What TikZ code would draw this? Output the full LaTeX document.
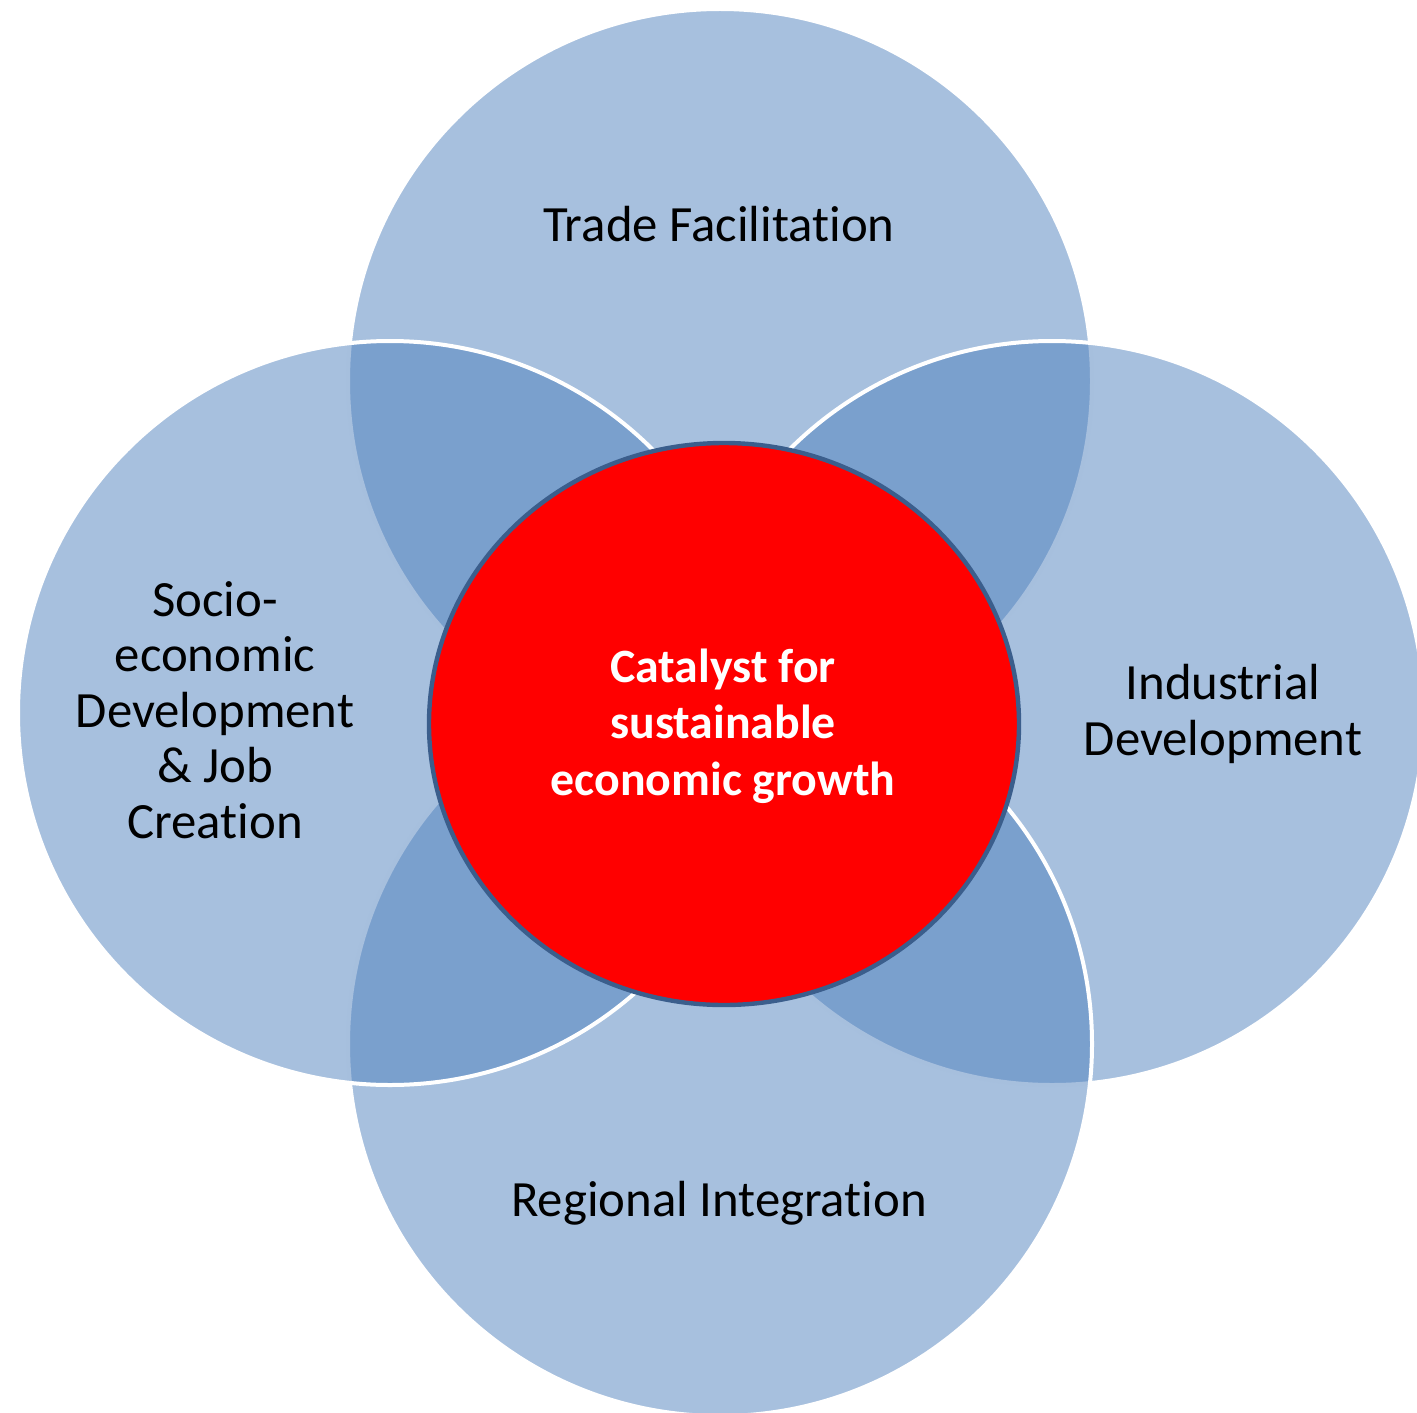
\documentclass[tikz,border=0pt]{standalone}
\usepackage{fontspec}
\setmainfont{Carlito}[Ligatures={NoCommon,NoContextual}]
\definecolor{petalblue}{HTML}{4F81BD}
\definecolor{coreedge}{HTML}{3B5E8C}
\begin{document}
\begin{tikzpicture}[x=0.5pt,y=-0.5pt,
  petal/.style={fill=petalblue, fill opacity=0.5, draw=white, draw opacity=1, line width=2pt},
  core/.style={fill=red, draw=coreedge, line width=2.2pt},
  label/.style={align=center, text=black, inner sep=0pt, anchor=base,
    font=\fontsize{25.4}{27.75}\selectfont},
  corelabel/.style={align=center, text=white, inner sep=0pt, anchor=base,
    font=\fontsize{23.9}{28.25}\selectfont\bfseries}]
  \useasboundingbox (0,0) rectangle (1417,1412);
  \clip (0,0) rectangle (1417,1412);
  % four overlapping petals, drawn top, right, bottom, left
  \draw[petal] (720,381) circle [radius=372];
  \draw[petal] (1052,713) circle [radius=372];
  \draw[petal] (720,1044) circle [radius=372];
  \draw[petal] (390,713) circle [radius=372];
  % central ellipse
  \draw[core] (724,724) ellipse [x radius=295, y radius=281];
  % labels (anchored on the baseline of their last line)
  \node[label] (trade) at (719,242) {Trade Facilitation};
  \node[label] (socio) at (215,838) {Socio-\\economic\\Development\\\& Job\\Creation};
  \node[label] (industrial) at (1223,755) {Industrial\\Development};
  \node[label] (regional) at (719,1216) {Regional Integration};
  \node[corelabel] (catalyst) at (723,795) {Catalyst for\\sustainable\\economic growth};
\end{tikzpicture}
\end{document}
